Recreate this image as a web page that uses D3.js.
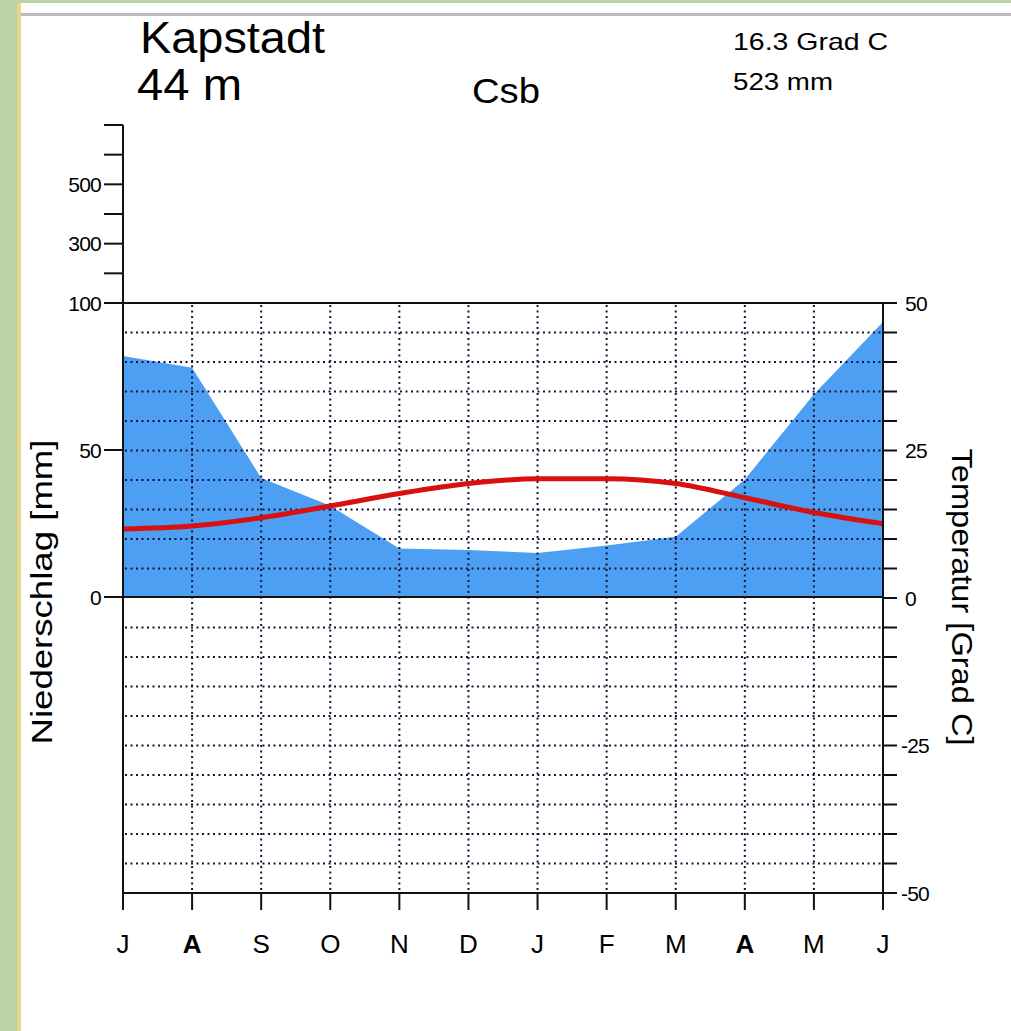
<!DOCTYPE html>
<html>
<head>
<meta charset="utf-8">
<script src="https://cdn.jsdelivr.net/npm/d3@7"></script>
<style>
  body { margin: 0; background: #bdd3a6; }
  text { font-family: "Liberation Sans", Arial, sans-serif; fill: #000; }
</style>
</head>
<body>
<div id="chart"></div>
<script>
// Klimadiagramm Kapstadt
var months = ["J", "A", "S", "O", "N", "D", "J", "F", "M", "A", "M", "J"]
var precipitation = [82, 78, 40.5, 31, 16.5, 16, 15, 17.5, 20.5, 40, 69, 93.5]
var temperature = [11.7, 12.2, 13.6, 15.6, 17.7, 19.4, 20.2, 20.2, 19.4, 17, 14.5, 12.6]
var precipTicksLabelled = [500, 300, 100, 50, 0]
var precipTicksUpper = [100, 200, 300, 400, 500, 600, 700]
var tempTicksLabelled = [50, 25, 0, -25, -50]

var width = 1011, height = 1031

var svg = d3.select("#chart")
  .append("svg")
  .attr("width", width)
  .attr("height", height)

// page background (green frame on left and top)
svg.append("rect").attr("x", 0).attr("y", 0).attr("width", width).attr("height", height).attr("fill", "#bdd3a6")
svg.append("rect").attr("x", 17).attr("y", 3).attr("width", width).attr("height", height).attr("fill", "#e8d68a")
svg.append("rect").attr("x", 21).attr("y", 3).attr("width", width).attr("height", height).attr("fill", "#ffffff")
svg.append("rect").attr("x", 21).attr("y", 13).attr("width", width).attr("height", 3).attr("fill", "#bdbdbd")

// scales
var xScale = d3.scalePoint()
  .domain(d3.range(months.length))
  .range([123, 883])

// precipitation: linear up to 100 mm, compressed above
var yPrecip = d3.scaleLinear()
  .domain([0, 100, 700])
  .range([597, 303, 125])

var yTemp = d3.scaleLinear()
  .domain([-50, 50])
  .range([893, 303])

// precipitation area
var area = d3.area()
  .x(function(d, i) { return xScale(i) })
  .y0(yPrecip(0))
  .y1(function(d) { return yPrecip(d) })

svg.append("path")
  .datum(precipitation)
  .attr("d", area)
  .attr("fill", "#4c9ff2")

// dotted grid
var gridLines = d3.range(-45, 50, 5).filter(function(d) { return d !== 0 })
svg.selectAll(".hgrid")
  .data(gridLines)
  .enter().append("line")
  .attr("x1", 125).attr("x2", 881)
  .attr("y1", function(d) { return yTemp(d) })
  .attr("y2", function(d) { return yTemp(d) })
  .attr("stroke", "#15153a")
  .attr("stroke-width", 2)
  .attr("stroke-dasharray", "2,3.5")

svg.selectAll(".vgrid")
  .data(d3.range(1, months.length - 1))
  .enter().append("line")
  .attr("x1", function(d) { return xScale(d) })
  .attr("x2", function(d) { return xScale(d) })
  .attr("y1", 305).attr("y2", 893)
  .attr("stroke", "#15153a")
  .attr("stroke-width", 2)
  .attr("stroke-dasharray", "2,3.5")

// temperature line
var line = d3.line()
  .x(function(d, i) { return xScale(i) })
  .y(function(d) { return yTemp(d) })
  .curve(d3.curveMonotoneX)

svg.append("path")
  .datum(temperature)
  .attr("d", line)
  .attr("fill", "none")
  .attr("stroke", "#d81010")
  .attr("stroke-width", 5)

// frame lines
var axisColor = "#111"
svg.append("line").attr("x1", 123).attr("x2", 123).attr("y1", yPrecip(700)).attr("y2", 893).attr("stroke", axisColor).attr("stroke-width", 2)
svg.append("line").attr("x1", 883).attr("x2", 883).attr("y1", 303).attr("y2", 893).attr("stroke", axisColor).attr("stroke-width", 2)
svg.append("line").attr("x1", 123).attr("x2", 883).attr("y1", yPrecip(100)).attr("y2", yPrecip(100)).attr("stroke", axisColor).attr("stroke-width", 2)
svg.append("line").attr("x1", 123).attr("x2", 883).attr("y1", yPrecip(0)).attr("y2", yPrecip(0)).attr("stroke", axisColor).attr("stroke-width", 2)
svg.append("line").attr("x1", 123).attr("x2", 883).attr("y1", 893).attr("y2", 893).attr("stroke", axisColor).attr("stroke-width", 2)

// left axis ticks
svg.selectAll(".ptick")
  .data(precipTicksUpper.concat([50, 0]))
  .enter().append("line")
  .attr("x1", 104).attr("x2", 123)
  .attr("y1", function(d) { return yPrecip(d) })
  .attr("y2", function(d) { return yPrecip(d) })
  .attr("stroke", axisColor)
  .attr("stroke-width", 2)

svg.selectAll(".plabel")
  .data(precipTicksLabelled)
  .enter().append("text")
  .attr("x", 101)
  .attr("y", function(d) { return yPrecip(d) })
  .attr("dy", "0.36em")
  .attr("text-anchor", "end")
  .attr("font-size", 21)
  .attr("letter-spacing", -0.8)
  .text(function(d) { return d })

// right axis ticks
svg.selectAll(".ttick")
  .data(d3.range(-50, 55, 5))
  .enter().append("line")
  .attr("x1", 883).attr("x2", 897)
  .attr("y1", function(d) { return yTemp(d) })
  .attr("y2", function(d) { return yTemp(d) })
  .attr("stroke", axisColor)
  .attr("stroke-width", 2)

svg.selectAll(".tlabel")
  .data(tempTicksLabelled)
  .enter().append("text")
  .attr("x", function(d) { return d < 0 ? 901 : 905 })
  .attr("y", function(d) { return yTemp(d) })
  .attr("dy", "0.36em")
  .attr("text-anchor", "start")
  .attr("font-size", 21)
  .attr("letter-spacing", -0.8)
  .text(function(d) { return d })

// month ticks and labels
svg.selectAll(".mtick")
  .data(months)
  .enter().append("line")
  .attr("x1", function(d, i) { return xScale(i) })
  .attr("x2", function(d, i) { return xScale(i) })
  .attr("y1", 893).attr("y2", 910)
  .attr("stroke", axisColor)
  .attr("stroke-width", 2)

svg.selectAll(".mlabel")
  .data(months)
  .enter().append("text")
  .attr("x", function(d, i) { return xScale(i) })
  .attr("y", 953)
  .attr("text-anchor", "middle")
  .attr("font-size", 26)
  .attr("font-weight", function(d) { return d === "A" ? "bold" : "normal" })
  .text(function(d) { return d })

// axis titles
svg.append("text")
  .attr("transform", "translate(52,592) rotate(-90)")
  .attr("text-anchor", "middle")
  .attr("font-size", 30)
  .attr("textLength", 305)
  .attr("lengthAdjust", "spacingAndGlyphs")
  .text("Niederschlag [mm]")

svg.append("text")
  .attr("transform", "translate(952,597) rotate(90)")
  .attr("text-anchor", "middle")
  .attr("font-size", 30)
  .attr("textLength", 297)
  .attr("lengthAdjust", "spacingAndGlyphs")
  .text("Temperatur [Grad C]")

// header texts
function header(x, y, size, len, label) {
  svg.append("text")
    .attr("x", x).attr("y", y)
    .attr("font-size", size)
    .attr("textLength", len)
    .attr("lengthAdjust", "spacingAndGlyphs")
    .text(label)
}
header(140, 53, 44, 185, "Kapstadt")
header(137, 100, 44, 105, "44 m")
header(472, 103, 35, 68, "Csb")
header(733, 50, 24, 155, "16.3 Grad C")
header(733, 90, 24, 100, "523 mm")
</script>
</body>
</html>
